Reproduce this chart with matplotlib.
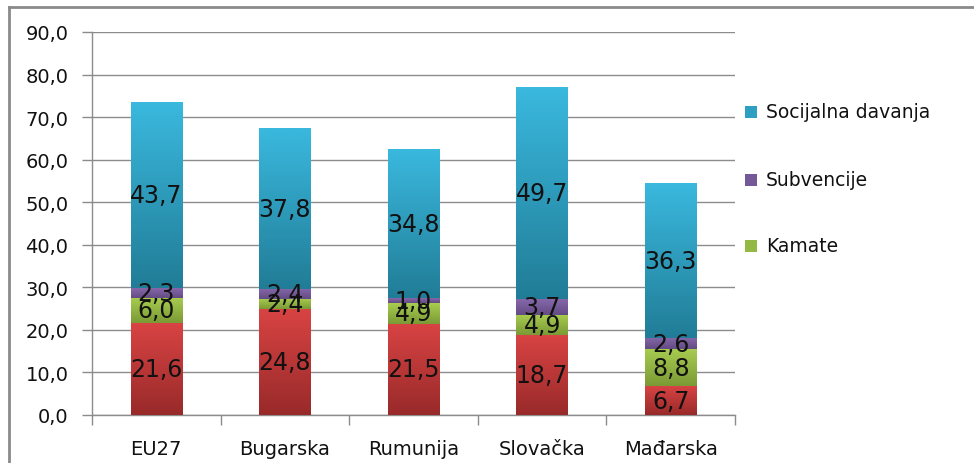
import numpy as np
import matplotlib
matplotlib.use("Agg")
import matplotlib.pyplot as plt
from matplotlib.patches import Rectangle
from matplotlib.lines import Line2D
from matplotlib.ticker import FixedLocator, FuncFormatter

# ---- data ----
categories = ["EU27", "Bugarska", "Rumunija", "Slovačka", "Mađarska"]
ostalo = [21.6, 24.8, 21.5, 18.7, 6.7]          # red (bottom), not in legend
kamate = [6.0, 2.4, 4.9, 4.9, 8.8]
subvencije = [2.3, 2.4, 1.0, 3.7, 2.6]
socijalna = [43.7, 37.8, 34.8, 49.7, 36.3]

series = [
    (None, ostalo, "#d84343", "#992a2a"),
    ("Kamate", kamate, "#a8cd50", "#7b9a35"),
    ("Subvencije", subvencije, "#8668aa", "#634b84"),
    ("Socijalna davanja", socijalna, "#3ab8de", "#217d97"),
]

W, H = 974, 464
fig = plt.figure(figsize=(W / 100, H / 100), dpi=100)
fig.patch.set_facecolor("white")

def fx(px):
    return px / W

def fy(py):
    return 1 - py / H

ax = fig.add_axes([fx(92), fy(416), fx(735) - fx(92), fy(33) - fy(416)])
ax.set_facecolor("white")

grey = "#8c8c8c"
bar_w = 0.4
x = np.arange(len(categories))
bottoms = np.zeros(len(categories))

def gradient(c_top, c_bot, n=64):
    t = np.linspace(0, 1, n)[:, None]
    a = np.array(matplotlib.colors.to_rgb(c_top))
    b = np.array(matplotlib.colors.to_rgb(c_bot))
    return (a * (1 - t) + b * t)[:, None, :]

for name, vals, ctop, cbot in series:
    vals = np.array(vals)
    for i, (xi, v, b0) in enumerate(zip(x, vals, bottoms)):
        ax.imshow(gradient(ctop, cbot), extent=(xi - bar_w / 2, xi + bar_w / 2, b0, b0 + v),
                  aspect="auto", origin="upper", interpolation="bilinear", zorder=3)
        ax.text(xi, b0 + v / 2, f"{v:.1f}".replace(".", ","), ha="center", va="center",
                fontsize=17, color="#111111", zorder=5)
    bottoms = bottoms + vals

ax.set_xlim(-0.5, len(categories) - 0.5)
ax.set_ylim(0, 90)

ax.set_yticks(np.arange(0, 91, 10))
ax.yaxis.set_major_formatter(FuncFormatter(lambda v, p: f"{v:.1f}".replace(".", ",")))
ax.grid(axis="y", color=grey, linewidth=1.0, zorder=0)
ax.set_axisbelow(True)

ax.set_xticks(x)
ax.set_xticklabels(categories)
ax.xaxis.set_minor_locator(FixedLocator(np.arange(-0.5, len(categories), 1.0)))
ax.tick_params(axis="x", which="major", length=0, pad=17, labelsize=14, labelcolor="#111111")
ax.tick_params(axis="x", which="minor", length=7, width=1, color=grey, direction="out")
ax.tick_params(axis="y", length=7, width=1, color=grey, direction="out", pad=10,
               labelsize=14, labelcolor="#111111")

for s in ["top", "right"]:
    ax.spines[s].set_visible(False)
for s in ["left", "bottom"]:
    ax.spines[s].set_color(grey)
    ax.spines[s].set_linewidth(1.0)

# chart border (left & top visible)
fig.add_artist(Line2D([fx(9), fx(9)], [fy(8), 0], transform=fig.transFigure, color="#8a8a8a", lw=2))
fig.add_artist(Line2D([fx(9), 1], [fy(8), fy(8)], transform=fig.transFigure, color="#8a8a8a", lw=2))

# legend
leg_items = [("Socijalna davanja", "#2e9fc3", 113), ("Subvencije", "#7459 98".replace(" ", ""), 181), ("Kamate", "#93b843", 247)]
for label, col, yc in leg_items:
    fig.add_artist(Rectangle((fx(745), fy(yc + 6)), fx(12), fy(yc - 6) - fy(yc + 6),
                             transform=fig.transFigure, facecolor=col, edgecolor="none"))
    fig.text(fx(766), fy(yc), label, ha="left", va="center", fontsize=13.5, color="#111111")

fig.savefig("out.png", dpi=100, facecolor="white")
